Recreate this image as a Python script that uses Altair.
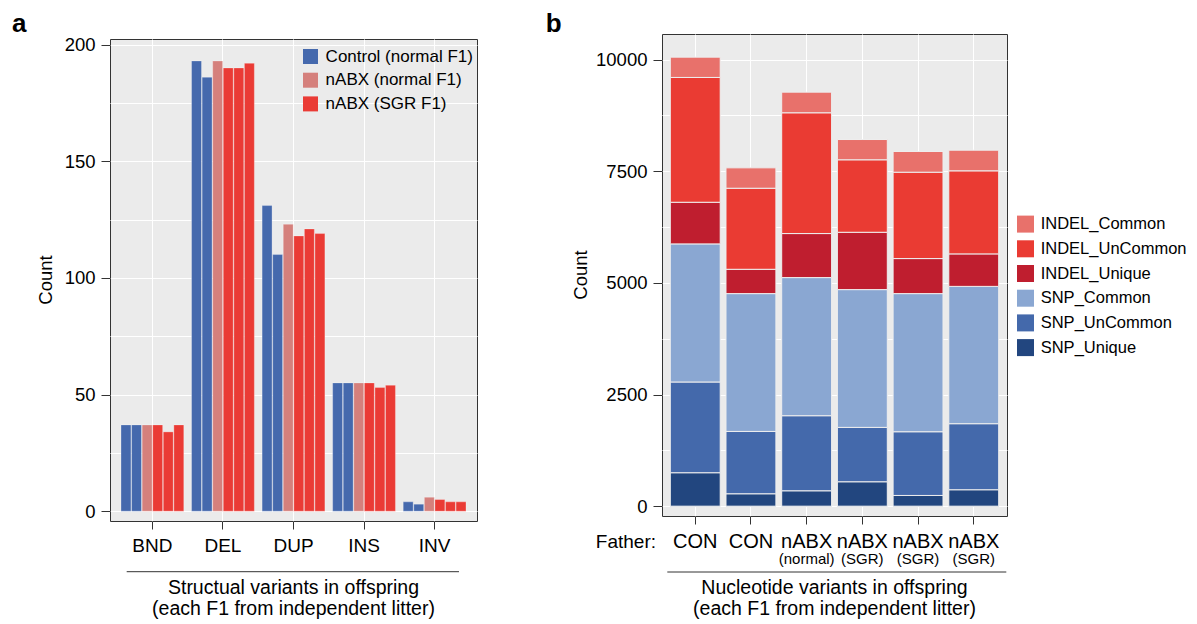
import altair as alt
import pandas as pd

FONT = "Liberation Sans"

# ---------------- Panel a data ----------------
sv_types = ["BND", "DEL", "DUP", "INS", "INV"]
sv_samples = [1, 2, 3, 4, 5, 6]
sv_groups = ["Control (normal F1)", "Control (normal F1)", "nABX (normal F1)",
             "nABX (SGR F1)", "nABX (SGR F1)", "nABX (SGR F1)"]
sv_BND = [37, 37, 37, 37, 34, 37]
sv_DEL = [193, 186, 193, 190, 190, 192]
sv_DUP = [131, 110, 123, 118, 121, 119]
sv_INS = [55, 55, 55, 55, 53, 54]
sv_INV = [4, 3, 6, 5, 4, 4]
sv_group_names = ["Control (normal F1)", "nABX (normal F1)", "nABX (SGR F1)"]
sv_group_colors = ["#4569AD", "#D5807C", "#EA3B35"]

rows = []
for t, vals in zip(sv_types, [sv_BND, sv_DEL, sv_DUP, sv_INS, sv_INV]):
    for s, g, v in zip(sv_samples, sv_groups, vals):
        rows.append({"type": t, "sample": s, "group": g, "count": v})
df_a = pd.DataFrame(rows)

# ---------------- Panel b data ----------------
nv_ids = ["S1", "S2", "S3", "S4", "S5", "S6"]
nv_father = ["CON", "CON", "nABX", "nABX", "nABX", "nABX"]
nv_father_sub = ["", "", "(normal)", "(SGR)", "(SGR)", "(SGR)"]
nv_categories = ["INDEL_Common", "INDEL_UnCommon", "INDEL_Unique",
                 "SNP_Common", "SNP_UnCommon", "SNP_Unique"]
nv_colors = ["#E8716B", "#EA3B33", "#BF1E2F", "#8AA7D2", "#4469AB", "#22467F"]
nv_SNP_Unique = [749, 278, 345, 547, 240, 368]
nv_SNP_UnCommon = [2032, 1396, 1681, 1217, 1427, 1479]
nv_SNP_Common = [3093, 3086, 3093, 3086, 3093, 3075]
nv_INDEL_Unique = [932, 545, 986, 1284, 785, 728]
nv_INDEL_UnCommon = [2795, 1815, 2705, 1623, 1934, 1860]
nv_INDEL_Common = [455, 457, 462, 454, 464, 462]

stack_order = ["SNP_Unique", "SNP_UnCommon", "SNP_Common",
               "INDEL_Unique", "INDEL_UnCommon", "INDEL_Common"]
series_b = {
    "SNP_Unique": nv_SNP_Unique, "SNP_UnCommon": nv_SNP_UnCommon,
    "SNP_Common": nv_SNP_Common, "INDEL_Unique": nv_INDEL_Unique,
    "INDEL_UnCommon": nv_INDEL_UnCommon, "INDEL_Common": nv_INDEL_Common,
}
rows = []
for k, cat in enumerate(stack_order):
    for sid, v in zip(nv_ids, series_b[cat]):
        rows.append({"sample": sid, "cat": cat, "ord": k, "count": v})
df_b = pd.DataFrame(rows)
df_blab = pd.DataFrame({"sample": nv_ids, "father": nv_father, "sub": nv_father_sub})

H = 482
W_A = 367
W_B = 345
TICK = "#333333"
PLOT_BG = alt.ViewBackground(fill="#EBEBEB", stroke="#333333", strokeWidth=1)


def one(label):
    return pd.DataFrame({"label": [label]})


def txt(label, x, y, size, **kw):
    return alt.Chart(one(label)).mark_text(fontSize=size, font=FONT, color="black", **kw).encode(
        x=alt.value(x), y=alt.value(y), text="label:N")


def hline(x1, x2, y):
    return alt.Chart(one("l")).mark_rule(color=TICK, strokeWidth=1).encode(
        x=alt.value(x1), x2=alt.value(x2), y=alt.value(y))


# ---------------- Panel a ----------------
bars_a = alt.Chart(df_a).mark_bar(stroke="white", strokeWidth=0.4, strokeOpacity=0.7).encode(
    x=alt.X("type:N", sort=sv_types,
            scale=alt.Scale(paddingInner=0.11, paddingOuter=0.156),
            axis=alt.Axis(title=None, labelAngle=0, labelFontSize=19, labelFont=FONT,
                          labelColor="black", labelPadding=7, tickSize=8, tickColor=TICK,
                          domain=False, grid=True, gridColor="white", gridWidth=1,
                          bandPosition=0.5)),
    xOffset=alt.XOffset("sample:O", scale=alt.Scale(paddingInner=0.06, paddingOuter=0)),
    y=alt.Y("count:Q", scale=alt.Scale(domain=[-4.2, 202.4], nice=False, zero=False),
            axis=alt.Axis(title=None, values=list(range(0, 201, 25)),
                          labelExpr="datum.value % 50 == 0 ? datum.label : ''",
                          labelOverlap=False, labelFontSize=18.5, labelFont=FONT,
                          labelColor="black", labelPadding=6, tickSize=9, tickColor=TICK,
                          tickOpacity={"condition": {"test": "datum.value % 50 === 0", "value": 1}, "value": 0},
                          domain=False, grid=True, gridColor="white", gridWidth=1)),
    y2=alt.datum(0),
    color=alt.Color("group:N", scale=alt.Scale(domain=sv_group_names, range=sv_group_colors),
                    legend=alt.Legend(title=None, orient="none", legendX=192, legendY=14,
                                      symbolType="square", symbolSize=225, symbolStrokeWidth=0,
                                      symbolOpacity=1, labelFontSize=17, labelFont=FONT,
                                      labelColor="black", rowPadding=5.7, labelOffset=6.6,
                                      padding=0)),
)

panel_a = alt.layer(
    bars_a,
    hline(16.7, 349, 532.7),
    txt("Structual variants in offspring", W_A / 2, 554.7, 19.5, align="center", baseline="alphabetic"),
    txt("(each F1 from independent litter)", W_A / 2, 576, 19.5, align="center", baseline="alphabetic"),
    txt("Count", -64, H / 2, 18.5, align="center", baseline="middle", angle=270),
    txt("a", -98, -6.7, 26, align="left", baseline="alphabetic", fontWeight="bold"),
).properties(width=W_A, height=H, view=PLOT_BG)

spacer = alt.Chart(one(" ")).mark_text(fontSize=1).encode(text="label:N").properties(
    width=W_A, height=4.3,
    view=alt.ViewBackground(fill="transparent", stroke="transparent"))

col_a = alt.vconcat(spacer, panel_a, spacing=0, bounds="flush")

# ---------------- Panel b ----------------
xb = alt.X("sample:N", sort=nv_ids,
           scale=alt.Scale(paddingInner=0.104, paddingOuter=0.149),
           axis=alt.Axis(title=None, labels=False, tickSize=8, tickColor=TICK, domain=False,
                         grid=True, gridColor="white", gridWidth=1, bandPosition=0.5))

bars_b = alt.Chart(df_b).mark_bar(stroke="#EEEEEE", strokeWidth=1).encode(
    x=xb,
    y=alt.Y("count:Q", stack="zero",
            scale=alt.Scale(domain=[-220, 10574], nice=False, zero=False),
            axis=alt.Axis(title=None, values=list(range(0, 10001, 1250)),
                          labelExpr="datum.value % 2500 == 0 ? datum.label : ''",
                          format="d",
                          labelOverlap=False, labelFontSize=18.5, labelFont=FONT,
                          labelColor="black", labelPadding=6, tickSize=9, tickColor=TICK,
                          tickOpacity={"condition": {"test": "datum.value % 2500 === 0", "value": 1}, "value": 0},
                          domain=False, grid=True, gridColor="white", gridWidth=1)),
    order=alt.Order("ord:Q", sort="ascending"),
    color=alt.Color("cat:N", scale=alt.Scale(domain=nv_categories, range=nv_colors),
                    legend=alt.Legend(title=None, orient="none", legendX=355, legendY=181.6,
                                      symbolType="square", symbolSize=289, symbolStrokeWidth=0,
                                      symbolOpacity=1, labelFontSize=16.5, labelFont=FONT,
                                      labelColor="black", rowPadding=7.7, labelOffset=6.7,
                                      padding=0)),
)

lab_main = alt.Chart(df_blab).mark_text(fontSize=20, font=FONT, color="black",
                                        align="center", baseline="alphabetic").encode(
    x=alt.X("sample:N", sort=nv_ids), y=alt.value(514.3), text="father:N")
lab_sub = alt.Chart(df_blab).mark_text(fontSize=15, font=FONT, color="black",
                                       align="center", baseline="alphabetic").encode(
    x=alt.X("sample:N", sort=nv_ids), y=alt.value(530), text="sub:N")

panel_b = alt.layer(
    bars_b,
    lab_main,
    lab_sub,
    txt("Father:", -6, 514.3, 19, align="right", baseline="alphabetic"),
    hline(5.3, 344.3, 538),
    txt("Nucleotide variants in offspring", W_B / 2, 560, 19.5, align="center", baseline="alphabetic"),
    txt("(each F1 from independent litter)", W_B / 2, 581.3, 19.5, align="center", baseline="alphabetic"),
    txt("Count", -81, H / 2, 18.5, align="center", baseline="middle", angle=270),
    txt("b", -116.3, -2.4, 26, align="left", baseline="alphabetic", fontWeight="bold"),
).properties(width=W_B, height=H, view=PLOT_BG)

chart = alt.hconcat(col_a, panel_b, spacing=67).resolve_scale(
    color="independent"
).properties(
    padding={"left": 3, "top": 2, "right": 0, "bottom": 0}
).configure(font=FONT)

chart.save("out.html", embed_options={"renderer": "svg", "actions": False})
